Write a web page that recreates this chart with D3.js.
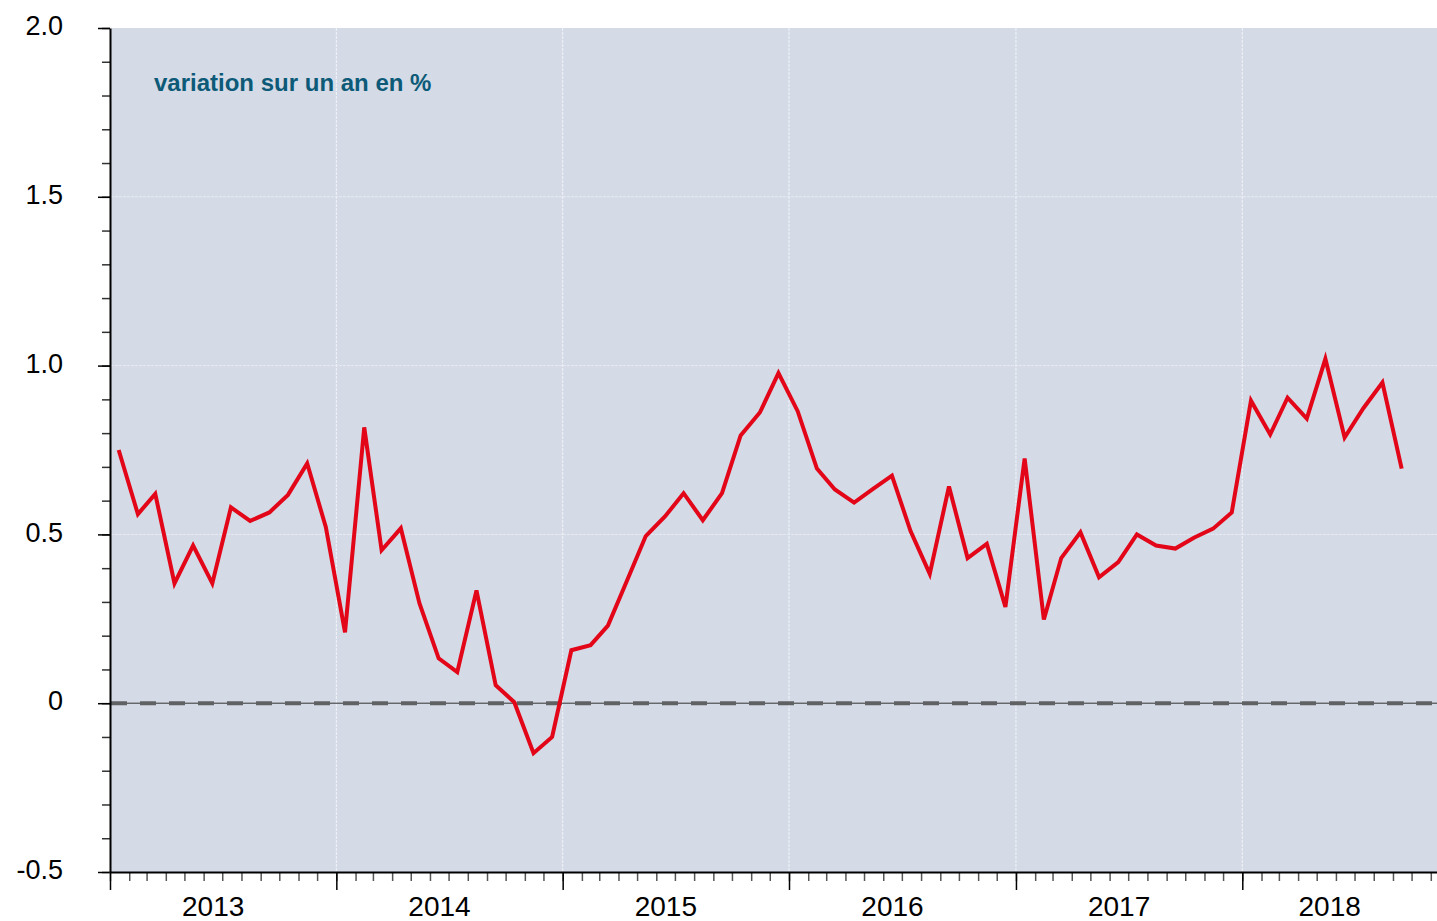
<!DOCTYPE html>
<html>
<head>
<meta charset="utf-8">
<script src="https://cdn.jsdelivr.net/npm/d3@7"></script>
<style>
  body { margin: 0; background: #fff; }
  svg { display: block; font-family: "Liberation Sans", Arial, sans-serif; }
</style>
</head>
<body>
<div id="chart"></div>
<script>
// Monthly values, Jan 2013 .. Sep 2018
var firstMonth = new Date(2013, 0, 1);
var values = [
  0.75, 0.56, 0.62, 0.355, 0.467, 0.355, 0.58, 0.54, 0.565, 0.617, 0.71, 0.522,   // 2013
  0.21, 0.817, 0.453, 0.518, 0.296, 0.133, 0.092, 0.334, 0.053, 0.003, -0.148, -0.10, // 2014
  0.157, 0.172, 0.23, 0.364, 0.495, 0.553, 0.622, 0.542, 0.622, 0.793, 0.861, 0.978, // 2015
  0.865, 0.695, 0.633, 0.594, 0.634, 0.674, 0.51, 0.383, 0.642, 0.43, 0.472, 0.285,   // 2016
  0.725, 0.248, 0.43, 0.506, 0.373, 0.418, 0.5, 0.467, 0.458, 0.49, 0.517, 0.565,     // 2017
  0.896, 0.796, 0.905, 0.843, 1.02, 0.787, 0.873, 0.95, 0.695                         // 2018
];
var yearLabels = ["2013", "2014", "2015", "2016", "2017", "2018"];
var yMajorTicks = [-0.5, 0, 0.5, 1.0, 1.5, 2.0];
var yGridValues = [0.5, 1.0, 1.5];
var title = "variation sur un an en %";

var W = 1437, H = 921;
var margin = { top: 28, right: 0, bottom: 49, left: 110 };
var width = W - margin.left - margin.right;
var height = H - margin.top - margin.bottom;

var svg = d3.select('#chart').append('svg')
    .attr('width', W)
    .attr('height', H);
var g = svg.append('g')
    .attr('transform', 'translate(' + margin.left + ',' + margin.top + ')');

var dates = values.map(function (v, i) {
  var m = d3.timeMonth.offset(firstMonth, i);
  return new Date(m.getFullYear(), m.getMonth(), 15);
});
var data = values.map(function (v, i) { return { date: dates[i], value: v }; });

var x = d3.scaleTime()
    .domain([firstMonth, new Date(2018, 10, 11)])
    .range([0, width]);
var y = d3.scaleLinear().domain([-0.5, 2.0]).range([height, 0]);

// plot background
g.append('rect')
    .attr('x', 1).attr('y', 0)
    .attr('width', width).attr('height', height)
    .attr('fill', '#d4dae6');

// grid lines
var yearStarts = yearLabels.map(function (d) { return new Date(+d, 0, 1); });
g.selectAll('.vgrid')
    .data(yearStarts.slice(1))
    .enter().append('line')
    .attr('x1', function (d) { return x(d); })
    .attr('x2', function (d) { return x(d); })
    .attr('y1', 0).attr('y2', height)
    .attr('stroke', '#f2f4f8').attr('stroke-width', 1)
    .attr('stroke-dasharray', '3 1');
g.selectAll('.hgrid')
    .data(yGridValues)
    .enter().append('line')
    .attr('x1', 1).attr('x2', width)
    .attr('y1', function (d) { return y(d); })
    .attr('y2', function (d) { return y(d); })
    .attr('stroke', '#e8ebf2').attr('stroke-width', 1)
    .attr('stroke-dasharray', '3 1');

// zero line
g.append('line')
    .attr('x1', 1).attr('x2', width)
    .attr('y1', y(0)).attr('y2', y(0))
    .attr('stroke', '#333').attr('stroke-width', 1);
g.append('line')
    .attr('x1', 1).attr('x2', width)
    .attr('y1', y(0)).attr('y2', y(0))
    .attr('stroke', '#5f6163').attr('stroke-width', 4)
    .attr('stroke-dasharray', '16 13');

// the series
g.append('path')
    .datum(data)
    .attr('fill', 'none')
    .attr('stroke', '#e30618')
    .attr('stroke-width', 4)
    .attr('stroke-linejoin', 'miter')
    .attr('d', d3.line()
        .x(function (d) { return x(d.date); })
        .y(function (d) { return y(d.value); }));

// title
g.append('text')
    .attr('x', 44).attr('y', 63)
    .attr('fill', '#0c5a78')
    .style('font-size', '24px')
    .style('font-weight', 'bold')
    .text(title);

// Y axis: minor ticks every 0.1
var yMinor = d3.range(-5, 21).map(function (d) { return d / 10; });
g.append('g')
    .call(d3.axisLeft(y).tickValues(yMinor).tickSize(8).tickFormat(''))
    .call(function (s) {
      s.select('.domain').remove();
      s.selectAll('line').attr('stroke', '#333').attr('stroke-width', 1.5);
    });
g.append('g')
    .call(d3.axisLeft(y).tickValues(yMajorTicks).tickSize(12).tickSizeOuter(0).tickPadding(35)
        .tickFormat(function (d) { return d === 0 ? '0' : d.toFixed(1); }))
    .call(function (s) {
      s.select('.domain').attr('stroke', '#000').attr('stroke-width', 2);
      s.selectAll('line').attr('stroke', '#000').attr('stroke-width', 1.5);
      s.selectAll('text').style('font-size', '27px').attr('fill', '#000').attr('dy', '0.25em');
    });

// X axis: month ticks + year ticks
var xAxisG = g.append('g').attr('transform', 'translate(0,' + height + ')');
xAxisG.append('g')
    .call(d3.axisBottom(x).ticks(d3.timeMonth.every(1)).tickSize(9).tickFormat(''))
    .call(function (s) {
      s.select('.domain').remove();
      s.selectAll('line').attr('stroke', '#555').attr('stroke-width', 1.5);
    });
xAxisG.append('g')
    .call(d3.axisBottom(x).tickValues(yearStarts).tickSize(18).tickSizeOuter(0).tickFormat(''))
    .call(function (s) {
      s.select('.domain').attr('stroke', '#000').attr('stroke-width', 2);
      s.selectAll('line').attr('stroke', '#000').attr('stroke-width', 1.5);
    });

// year labels, centered on the visible part of each year
var xEnd = x.domain()[1];
xAxisG.selectAll('.year-label')
    .data(yearLabels)
    .enter().append('text')
    .attr('class', 'year-label')
    .attr('x', function (d) {
      var a = new Date(+d, 0, 1), b = new Date(+d + 1, 0, 1);
      if (b > xEnd) b = xEnd;
      return (x(a) + x(b)) / 2 - 10;
    })
    .attr('y', 44)
    .attr('text-anchor', 'middle')
    .attr('fill', '#000')
    .style('font-size', '28px')
    .text(function (d) { return d; });
</script>
</body>
</html>
